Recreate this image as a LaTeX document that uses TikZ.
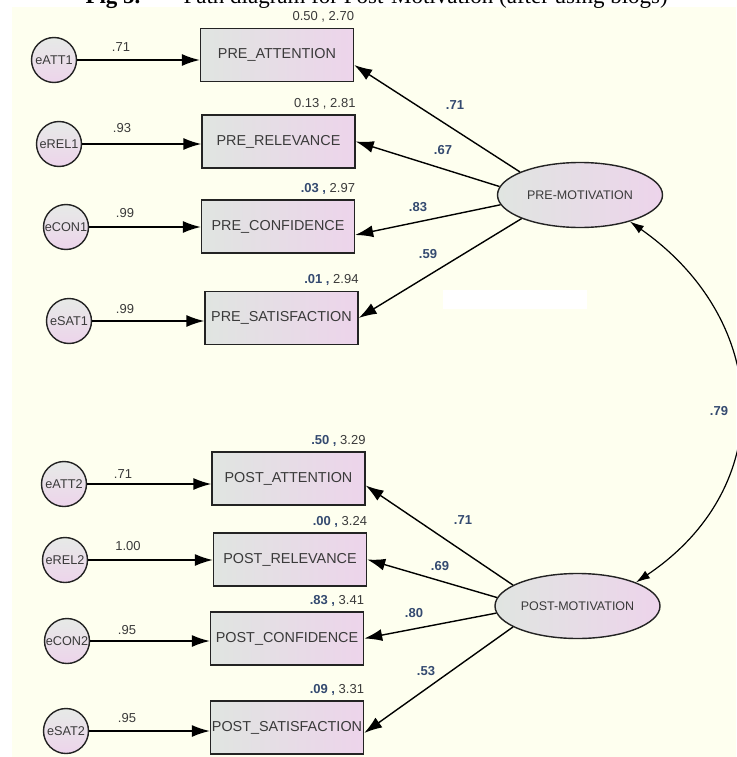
\documentclass[tikz,border=0pt]{standalone}
\usepackage{fontspec}
\setmainfont{Liberation Sans}
\newfontfamily\titlefont{Liberation Serif}
\usetikzlibrary{shapes.geometric,arrows.meta}
\usepackage{xcolor}
\definecolor{bgcol}{RGB}{254,255,239}
\definecolor{fillgreen}{RGB}{224,229,225}
\definecolor{fillpink}{RGB}{237,212,235}
\definecolor{linegray}{RGB}{35,35,35}
\definecolor{txtgray}{RGB}{58,58,58}
\definecolor{numblue}{RGB}{52,74,112}
\newcommand{\scorelab}[2]{{\bfseries\color{numblue}#1 ,}\ #2}

\begin{document}
\begin{tikzpicture}[
                      x = 1pt,
                      y = -1pt,
      every node/.style = {text=txtgray},
             obs/.style = {draw=linegray, line width=1.4pt, left color=fillgreen, right color=fillpink,
                           minimum width=153pt, minimum height=53pt, inner sep=0pt,
                           font=\fontsize{14.4}{16}\selectfont},
             err/.style = {circle, draw=linegray, line width=1.4pt, top color=fillgreen!80!white, bottom color=fillpink,
                           minimum size=45pt, inner sep=0pt, font=\fontsize{12.7}{14}\selectfont},
             lat/.style = {ellipse, draw=linegray, line width=1.4pt, left color=fillgreen, right color=fillpink,
                           minimum width=165pt, minimum height=65pt, inner sep=0pt,
                           font=\fontsize{12.5}{14}\selectfont},
           score/.style = {anchor=south east, inner sep=0pt, yshift=5pt, font=\fontsize{13}{15}\selectfont},
              wt/.style = {font=\fontsize{13}{15}\selectfont, inner sep=0pt},
             wtb/.style = {font=\fontsize{13}{15}\selectfont\bfseries, text=numblue, inner sep=0pt},
             arr/.style = {draw=black, line width=1.4pt, -{Latex[length=18pt,width=12pt]}},
             cov/.style = {draw=black, line width=1.2pt,
                           {Latex[length=14pt,width=9pt]}-{Latex[length=14pt,width=9pt]}},
                     ]
\useasboundingbox (0,0) rectangle (736,757);
\fill[bgcol] (12,7.5) rectangle (736,757);
\fill[white] (443,290) rectangle (587,309);

\node[anchor=base west, text=black, font=\titlefont\bfseries\fontsize{23}{26}\selectfont] (fig) at (82,4) {Fig 5.};
\node[anchor=base west, text=black, font=\titlefont\fontsize{23}{26}\selectfont] (title) at (180,4)
    {Path diagram for Post-Motivation (after using blogs)};

% error terms
\node[err] (eatt1) at (54,60)  {eATT1};
\node[err] (erel1) at (59,144) {eREL1};
\node[err] (econ1) at (66,227) {eCON1};
\node[err] (esat1) at (69,321) {eSAT1};
\node[err] (eatt2) at (64,484) {eATT2};
\node[err] (erel2) at (65,560) {eREL2};
\node[err] (econ2) at (67,641) {eCON2};
\node[err] (esat2) at (66,731) {eSAT2};

% observed
\node[obs, label={[score]north east:{0.50 , 2.70}}]         (patt) at (277,55)      {PRE\_ATTENTION};
\node[obs, label={[score]north east:{0.13 , 2.81}}]         (prel) at (278.5,141.5) {PRE\_RELEVANCE};
\node[obs, label={[score]north east:{\scorelab{.03}{2.97}}}] (pcon) at (278,226.5)   {PRE\_CONFIDENCE};
\node[obs, label={[score]north east:{\scorelab{.01}{2.94}}}] (psat) at (281.5,318)   {PRE\_SATISFACTION};
\node[obs, label={[score]north east:{\scorelab{.50}{3.29}}}] (qatt) at (288.5,478.5) {POST\_ATTENTION};
\node[obs, label={[score]north east:{\scorelab{.00}{3.24}}}] (qrel) at (290,559.5)   {POST\_RELEVANCE};
\node[obs, label={[score]north east:{\scorelab{.83}{3.41}}}] (qcon) at (287,638.5)   {POST\_CONFIDENCE};
\node[obs, label={[score]north east:{\scorelab{.09}{3.31}}}] (qsat) at (287,727.5)   {POST\_SATISFACTION};

% latent
\node[lat] (pmot) at (580,195)   {PRE-MOTIVATION};
\node[lat] (qmot) at (577.5,606) {POST-MOTIVATION};

\draw[arr] (eatt1) -- (eatt1 -| patt.west);
\draw[arr] (erel1) -- (erel1 -| prel.west);
\draw[arr] (econ1) -- (econ1 -| pcon.west);
\draw[arr] (esat1) -- (esat1 -| psat.west);
\draw[arr] (eatt2) -- (eatt2 -| qatt.west);
\draw[arr] (erel2) -- (erel2 -| qrel.west);
\draw[arr] (econ2) -- (econ2 -| qcon.west);
\draw[arr] (esat2) -- (esat2 -| qsat.west);

\draw[arr] (pmot.159) -- ([yshift=-10pt]patt.east);
\draw[arr] (pmot.174) -- (prel.east);
\draw[arr] (pmot.187) -- ([yshift=-8.5pt]pcon.east);
\draw[arr] (pmot.202) -- (psat.east);
\draw[arr] (qmot.162) -- ([yshift=-7pt]qatt.east);
\draw[arr] (qmot.174) -- (qrel.east);
\draw[arr] (qmot.185) -- (qcon.east);
\draw[arr] (qmot.198) -- ([yshift=-5.5pt]qsat.east);

\draw[cov] (pmot.-28) .. controls +(141,99) and +(143,-96) .. (qmot.22);

% weights
\node[wt] (w1) at (121,47)  {.71};
\node[wt] (w2) at (122,128) {.93};
\node[wt] (w3) at (125,213) {.99};
\node[wt] (w4) at (125,309) {.99};
\node[wt] (w5) at (123,474) {.71};
\node[wt] (w6) at (128,546) {1.00};
\node[wt] (w7) at (127,630) {.95};
\node[wt] (w8) at (127,718) {.95};

\node[wtb] (l1) at (455,105) {.71};
\node[wtb] (l2) at (443,150) {.67};
\node[wtb] (l3) at (418,207) {.83};
\node[wtb] (l4) at (428,254) {.59};
\node[wtb] (l5) at (463,520) {.71};
\node[wtb] (l6) at (440,566) {.69};
\node[wtb] (l7) at (414,613) {.80};
\node[wtb] (l8) at (426,671) {.53};
\node[wtb] (r1) at (719,411) {.79};
\end{tikzpicture}
\end{document}
